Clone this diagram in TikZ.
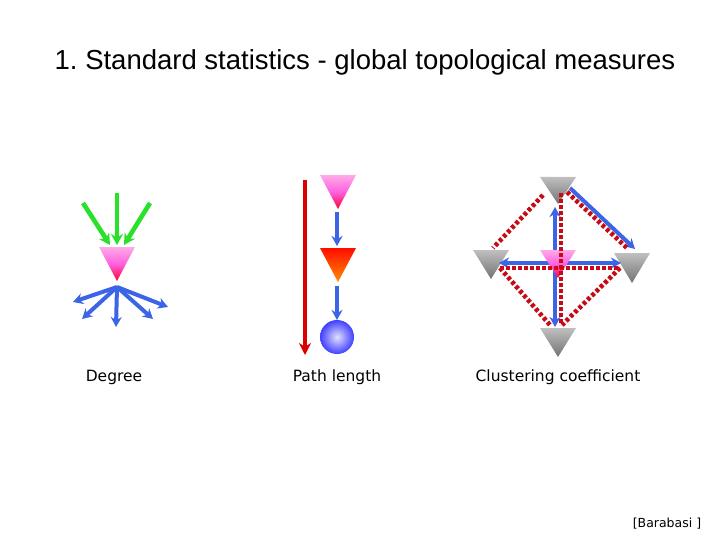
\documentclass[tikz,border=0pt]{standalone}
\usepackage{fontspec}
\setmainfont{Liberation Sans}
\newfontfamily\labelfont{DejaVu Sans}
\usetikzlibrary{arrows.meta}
\frenchspacing
\definecolor{arrblue}{RGB}{60,100,230}
\definecolor{arrgreen}{RGB}{40,225,40}
\definecolor{arrred}{RGB}{220,0,0}
\definecolor{dotred}{RGB}{200,10,20}
\tikzset{
  bluearr/.style={draw=arrblue,line width=4pt,-{Stealth[length=10pt,width=11pt]}},
  greenarr/.style={draw=arrgreen,line width=4.6pt,-{Stealth[length=11pt,width=12pt]}},
  redarr/.style={draw=arrred,line width=4pt,-{Stealth[length=12pt,width=12pt]}},
  reddot/.style={draw=dotred,line width=4.6pt,dash pattern=on 3.6pt off 2.4pt},
  pinktri/.style={top color=pink!60!magenta!60, bottom color=red!80!magenta, middle color=magenta!50!pink},
  graytri/.style={top color=black!25, bottom color=black!55},
  orangetri/.style={top color=red!90!orange, bottom color=orange!90!yellow},
  lab/.style={font=\labelfont\fontsize{15.5}{18}\selectfont, inner sep=0pt}
}
\newcommand{\tri}[4]{% style, center x, top y, apex y
  \shade[#1] ({#2-18},#3) -- ({#2+18},#3) -- (#2,#4) -- cycle;}
\begin{document}
\begin{tikzpicture}[x=1pt,y=-1pt]
\useasboundingbox (0,0) rectangle (720,540);
% title
\node[font=\fontsize{27.5}{32}\selectfont, inner sep=0pt] (title) at (365,62) {1. Standard statistics - global topological measures};

% ---------- Degree ----------
\coordinate (dg1) at (117,193);
\coordinate (dg2) at (83,203);
\coordinate (dg3) at (150,203);
\coordinate (dgin) at (117,245);
\coordinate (dginl) at (110,245);
\coordinate (dginr) at (124,245);
\coordinate (dgout) at (117,287);
\coordinate (db1) at (73,302);
\coordinate (db2) at (82,319);
\coordinate (db3) at (116,327);
\coordinate (db4) at (153,319);
\coordinate (db5) at (168,307);
\foreach \t in {db1,db2,db3,db4,db5}
  \draw[bluearr] (dgout) -- (\t);
\tri{pinktri}{117}{247}{281}
\draw[greenarr] (dg1) -- (dgin);
\draw[greenarr] (dg2) -- (dginl);
\draw[greenarr] (dg3) -- (dginr);
\node[lab] (ldeg) at (114,377) {Degree};

% ---------- Path length ----------
\coordinate (pr1) at (305,180);
\coordinate (pr2) at (305,355);
\draw[redarr] (pr1) -- (pr2);
\tri{pinktri}{338}{175}{209}
\tri{orangetri}{338}{248}{282}
\coordinate (pa1) at (337,212);
\coordinate (pa2) at (337,246);
\coordinate (pb1) at (337,286);
\coordinate (pb2) at (337,320);
\draw[bluearr] (pa1) -- (pa2);
\draw[bluearr] (pb1) -- (pb2);
\shade[inner color=blue!12!white, outer color=blue!75!white] (337,337) circle (17);
\node[lab] (lpath) at (337,377) {Path length};

% ---------- Clustering ----------
\tri{graytri}{558}{177}{204}
\tri{graytri}{491}{250}{279}
\tri{graytri}{632}{253}{283}
\tri{graytri}{558}{328}{357}
\coordinate (c0) at (555,263);
\coordinate (cu) at (555,207);
\coordinate (cl) at (499,263);
\coordinate (cr) at (621,263);
\coordinate (cd) at (555,327);
\coordinate (ct1) at (570,188);
\coordinate (ct2) at (635,249);
\draw[bluearr] (c0) -- (cu);
\draw[bluearr] (c0) -- (cl);
\draw[bluearr] (c0) -- (cr);
\draw[bluearr] (c0) -- (cd);
\draw[bluearr] (ct1) -- (ct2);
\tri{pinktri}{558}{250}{278}
\coordinate (rt) at (561,193);
\coordinate (rb) at (561,325);
\coordinate (rl) at (500,268);
\coordinate (rr) at (620,268);
\coordinate (rtl) at (543,195);
\coordinate (rtl2) at (493,248);
\coordinate (rtr) at (567,192);
\coordinate (rtr2) at (627,248);
\coordinate (rbl) at (550,325);
\coordinate (rbr) at (562,325);
\draw[reddot] (rt) -- (rb);
\draw[reddot] (rl) -- (rr);
\draw[reddot] (rtl) -- (rtl2);
\draw[reddot] (rtr) -- (rtr2);
\draw[reddot] (rl) -- (rbl);
\draw[reddot] (rr) -- (rbr);
\node[lab] (lclus) at (558,377) {Clustering coefficient};

\node[font=\labelfont\fontsize{12.5}{14}\selectfont, inner sep=0pt] (cite) at (667,524) {[Barabasi ]};
\end{tikzpicture}
\end{document}
